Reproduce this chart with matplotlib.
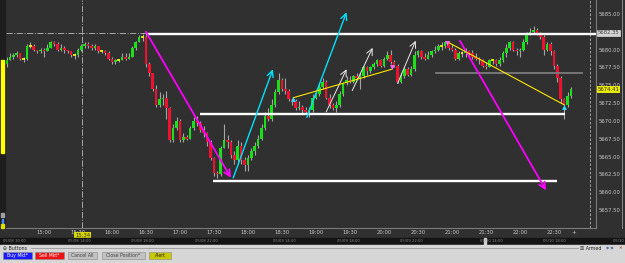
import matplotlib
matplotlib.use("Agg")
import matplotlib.pyplot as plt
from matplotlib.patches import Rectangle
import numpy as np

W, H = 625, 263

# 3 minute bars, first one at 14:27
bar_start = "14:27"
bar_minutes = 3
first_open = 5678.00

closes = [
    5678.50, 5679.00, 5679.25, 5679.50, 5678.75, 5678.75, 5680.50, 5680.50, 5680.00, 5679.75,
    5680.00, 5679.75, 5680.25, 5681.00, 5680.75, 5680.00, 5680.25, 5680.00, 5679.75, 5679.25,
    5679.25, 5680.00, 5680.50, 5680.75, 5680.50, 5680.25, 5680.50, 5679.75, 5679.75, 5679.50,
    5678.75, 5678.25, 5678.50, 5678.50, 5679.00, 5678.75, 5679.00, 5680.25, 5681.00, 5681.75,
    5681.75, 5678.00, 5676.75, 5674.50, 5672.25, 5673.00, 5673.25, 5671.75, 5667.25, 5669.00,
    5670.00, 5667.25, 5667.75, 5667.50, 5669.00, 5670.00, 5669.75, 5668.75, 5668.25, 5667.00,
    5664.75, 5662.75, 5662.50, 5666.25, 5667.25, 5667.00, 5665.25, 5664.50, 5666.50, 5664.50,
    5663.75, 5664.75, 5665.75, 5666.50, 5667.50, 5669.00, 5670.75, 5670.25, 5672.25, 5674.00,
    5675.75, 5674.50, 5674.25, 5673.00, 5672.75, 5671.75, 5672.00, 5671.50, 5671.25, 5671.50,
    5673.25, 5673.75, 5674.75, 5675.50, 5673.25, 5672.25, 5671.75, 5672.25, 5673.75, 5675.25,
    5675.75, 5675.50, 5676.25, 5676.00, 5676.25, 5677.50, 5677.00, 5677.50, 5678.00, 5678.50,
    5677.75, 5678.75, 5679.25, 5678.25, 5677.75, 5675.50, 5676.25, 5677.25, 5676.50, 5677.25,
    5679.25, 5679.75, 5679.00, 5678.75, 5679.25, 5679.75, 5680.00, 5680.50, 5680.50, 5681.00,
    5680.25, 5680.00, 5678.75, 5679.50, 5679.50, 5679.75, 5679.50, 5679.00, 5678.75, 5678.50,
    5677.75, 5677.50, 5678.50, 5678.50, 5678.00, 5678.50, 5679.50, 5680.25, 5681.00, 5680.00,
    5679.75, 5680.00, 5681.00, 5682.25, 5682.50, 5682.75, 5682.25, 5681.75, 5680.00, 5680.75,
    5679.75, 5677.75, 5676.00, 5673.00, 5672.25, 5673.50, 5674.41,
]
highs = [
    5679.00, 5679.50, 5679.50, 5679.75, 5679.50, 5679.00, 5680.75, 5681.00, 5680.75, 5680.00,
    5680.25, 5680.25, 5680.75, 5681.25, 5681.25, 5681.00, 5680.75, 5680.50, 5680.00, 5679.75,
    5679.50, 5680.25, 5680.75, 5681.00, 5681.00, 5680.75, 5680.75, 5680.50, 5680.00, 5680.00,
    5679.75, 5679.00, 5678.75, 5678.75, 5679.50, 5679.50, 5679.50, 5680.50, 5681.25, 5682.00,
    5682.25, 5682.00, 5678.25, 5676.75, 5675.00, 5674.00, 5673.75, 5674.25, 5672.00, 5669.50,
    5670.50, 5670.25, 5668.25, 5668.00, 5669.25, 5670.50, 5670.75, 5670.00, 5669.25, 5668.50,
    5667.25, 5665.00, 5663.00, 5666.50, 5669.50, 5668.00, 5667.25, 5665.75, 5667.25, 5667.00,
    5665.00, 5665.25, 5666.25, 5667.00, 5668.00, 5669.50, 5671.25, 5671.75, 5673.00, 5674.50,
    5676.75, 5676.00, 5676.00, 5674.50, 5673.25, 5673.00, 5672.75, 5672.25, 5672.00, 5672.00,
    5673.75, 5674.25, 5675.25, 5676.00, 5675.75, 5673.75, 5672.50, 5672.75, 5674.25, 5675.50,
    5676.25, 5676.25, 5676.50, 5676.75, 5676.75, 5677.75, 5677.75, 5677.75, 5678.25, 5678.75,
    5678.75, 5679.00, 5679.75, 5680.00, 5678.50, 5678.00, 5676.75, 5677.50, 5677.50, 5677.75,
    5679.75, 5680.00, 5680.00, 5679.50, 5679.75, 5680.00, 5680.50, 5680.75, 5681.00, 5681.25,
    5681.25, 5680.75, 5680.25, 5679.75, 5679.75, 5680.25, 5680.00, 5680.00, 5679.50, 5679.00,
    5678.75, 5678.25, 5678.75, 5678.75, 5678.75, 5679.00, 5679.75, 5680.75, 5681.25, 5681.25,
    5680.25, 5680.25, 5681.50, 5682.50, 5683.00, 5683.25, 5683.00, 5682.50, 5682.00, 5681.00,
    5681.00, 5680.00, 5678.00, 5676.25, 5673.25, 5674.00, 5674.75,
]
lows = [
    5677.50, 5678.50, 5678.75, 5679.00, 5678.50, 5678.25, 5678.50, 5680.25, 5679.75, 5679.50,
    5679.50, 5679.00, 5679.75, 5680.25, 5680.50, 5679.75, 5679.75, 5679.50, 5679.50, 5679.00,
    5678.75, 5679.00, 5679.75, 5680.25, 5680.25, 5680.00, 5680.00, 5679.50, 5679.50, 5679.25,
    5678.50, 5678.00, 5678.00, 5678.25, 5678.50, 5678.50, 5678.75, 5679.00, 5680.00, 5681.00,
    5681.25, 5677.50, 5676.25, 5674.25, 5672.00, 5672.00, 5672.25, 5670.25, 5667.00, 5667.00,
    5668.75, 5667.00, 5667.00, 5667.25, 5667.50, 5668.75, 5669.25, 5668.50, 5667.75, 5666.50,
    5664.50, 5662.25, 5662.00, 5662.25, 5666.25, 5666.25, 5664.75, 5664.00, 5664.25, 5664.00,
    5663.00, 5663.00, 5664.50, 5665.25, 5666.25, 5667.25, 5668.75, 5670.00, 5670.00, 5672.00,
    5673.75, 5674.25, 5673.75, 5672.75, 5672.25, 5671.50, 5671.50, 5671.00, 5671.00, 5670.50,
    5671.25, 5673.00, 5673.50, 5674.50, 5673.00, 5671.75, 5671.50, 5671.25, 5672.00, 5673.50,
    5675.00, 5675.25, 5675.25, 5675.75, 5674.50, 5676.00, 5676.50, 5676.75, 5677.25, 5677.75,
    5677.50, 5677.50, 5678.50, 5678.00, 5677.50, 5675.25, 5675.25, 5676.00, 5676.25, 5676.25,
    5677.00, 5679.00, 5678.75, 5678.50, 5678.75, 5679.00, 5679.50, 5679.75, 5680.00, 5680.25,
    5680.00, 5679.75, 5678.50, 5678.50, 5679.00, 5679.00, 5679.25, 5678.75, 5678.50, 5678.00,
    5677.50, 5677.25, 5677.50, 5678.00, 5677.75, 5677.75, 5678.25, 5679.00, 5680.00, 5679.75,
    5679.25, 5679.00, 5679.75, 5680.75, 5682.00, 5682.25, 5682.00, 5681.50, 5679.25, 5679.75,
    5679.25, 5677.25, 5675.50, 5672.50, 5670.25, 5672.00, 5673.25,
]

price_ticks = [5657.50, 5660.00, 5662.50, 5665.00, 5667.50, 5670.00,
               5672.50, 5675.00, 5677.50, 5680.00, 5682.50, 5685.00]
time_ticks = ["15:00", "15:30", "16:00", "16:30", "17:00", "17:30", "18:00", "18:30",
              "19:00", "19:30", "20:00", "20:30", "21:00", "21:30", "22:00", "22:30"]

# drawings on the chart: (from time, to time, price)
white_levels = [("16:30", None, 5682.25), ("17:18", "22:40", 5671.00),
                ("17:29", "22:33", 5661.50)]
gray_levels = [("20:45", "22:56", 5676.75)]
# arrows: (time0, price0, time1, price1)
magenta_arrows = [("16:30", 5682.50, "17:45", 5662.00), ("21:07", 5681.25, "22:23", 5660.25)]
cyan_arrows = [("17:47", 5662.00, "18:22", 5677.25), ("18:52", 5670.50, "19:27", 5685.25)]
white_arrows = [("19:09", 5671.25, "19:27", 5677.25), ("19:32", 5674.25, "19:50", 5680.25),
                ("20:12", 5675.25, "20:28", 5681.25)]
yellow_lines = [("18:40", 5673.25, "20:07", 5677.25), ("20:57", 5681.00, "22:39", 5672.25)]
up_marks = [("18:40", 5673.10), ("22:39", 5672.00)]
down_marks = [("20:07", 5677.55), ("20:56", 5680.95)]

cross_time, cross_price = "15:34", 5682.35
last_price = closes[-1]
date_labels = ["05/08 10:00", "05/08 14:00", "05/08 18:00", "05/08 22:00", "05/09 14:00",
               "05/09 18:00", "05/09 22:00", "05/10 14:00", "05/10 18:00", "05/10 22:00"]
date_label_px = [3, 68, 131, 195, 273, 337, 400, 480, 543, 613]


def hm(s):
    h, m = s.split(":")
    return int(h) * 60 + int(m)


def fx(x):
    return x / W


def fy(y):
    return 1 - y / H


bg = "#303030"
fig = plt.figure(figsize=(W / 100, H / 100), dpi=100, facecolor=bg)

ax = fig.add_axes([fx(6), fy(228), 590 / W, 228 / H])
ax.set_facecolor(bg)
ax.set_xlim(866.5, 1387.1)
ax.set_ylim(5654.97, 5686.96)

# candles
times = hm(bar_start) + bar_minutes * np.arange(len(closes))
opens = [first_open] + closes[:-1]
bw = 2.3
ax.vlines(times, lows, highs, color="#a4a4a4", lw=0.8, zorder=2)
for t, o, c in zip(times, opens, closes):
    if c > o:
        ax.add_patch(Rectangle((t - bw / 2, o), bw, c - o, color="#19e019", lw=0, zorder=3))
    elif c < o:
        ax.add_patch(Rectangle((t - bw / 2, c), bw, o - c, color="#f21030", lw=0, zorder=3))
    else:
        ax.hlines(c, t - bw / 2, t + bw / 2, color="#ffff00", lw=1.2, zorder=3)

# axes cosmetics
for s in ["top", "left"]:
    ax.spines[s].set_visible(False)
for s in ["right", "bottom"]:
    ax.spines[s].set_color("#7a7a7a")
    ax.spines[s].set_linewidth(0.8)
ax.yaxis.tick_right()
ax.set_yticks(price_ticks)
ax.set_yticklabels(["%.2f" % p for p in price_ticks])
ax.set_xticks([hm(t) for t in time_ticks])
ax.set_xticklabels(time_ticks)
ax.tick_params(axis="y", length=0, pad=1.6, labelsize=3.8, labelcolor="#c8c8c8")
ax.tick_params(axis="x", length=0, pad=1.8, labelsize=3.8, labelcolor="#c8c8c8")

# crosshair and time marker
ax.axhline(cross_price, color="#a8a8a8", lw=0.7, ls="-.", zorder=1)
ax.axvline(hm(cross_time), color="#a8a8a8", lw=0.7, ls="-.", zorder=1)
ax.axvline(1381.8, color="#b0b0b0", lw=0.6, ls=(0, (3, 2)), zorder=1)

# levels
xr = ax.get_xlim()[1]
for t0, t1, p in white_levels:
    ax.hlines(p, hm(t0), xr if t1 is None else hm(t1), color="white", lw=1.7, zorder=5)
for t0, t1, p in gray_levels:
    ax.hlines(p, hm(t0), hm(t1), color="#7c7c7c", lw=1.3, zorder=4)


def arrow(seg, color, lw):
    t0, p0, t1, p1 = seg
    ax.annotate("", xy=(hm(t1), p1), xytext=(hm(t0), p0), zorder=6,
                arrowprops=dict(arrowstyle="->,head_length=0.45,head_width=0.22",
                                color=color, lw=lw, shrinkA=0, shrinkB=0))


for seg in magenta_arrows:
    arrow(seg, "#ff00ff", 1.3)
for seg in cyan_arrows:
    arrow(seg, "#00e0ff", 1.0)
for seg in white_arrows:
    arrow(seg, "#e8e8e8", 0.7)
for t0, p0, t1, p1 in yellow_lines:
    ax.plot([hm(t0), hm(t1)], [p0, p1], color="#ffe600", lw=0.8, zorder=6)
for t, p in up_marks:
    ax.plot(hm(t), p, marker="^", ms=3.5, color="#33e0ff", mec="none", zorder=7)
for t, p in down_marks:
    ax.plot(hm(t), p, marker="v", ms=3.5, color="#ff66ff", mec="none", zorder=7)

# price flags on the axis
yt = ax.get_yaxis_transform()
ax.text(1.003, cross_price, "%.2f" % cross_price, transform=yt, fontsize=3.8, color="#404040",
        va="center", ha="left", clip_on=False,
        bbox=dict(boxstyle="square,pad=0.15", fc="#d4d4d4", ec="#f0f0f0", lw=0.4))
ax.text(1.003, last_price, "%.2f" % last_price, transform=yt, fontsize=3.8, color="#303030",
        va="center", ha="left", clip_on=False,
        bbox=dict(boxstyle="square,pad=0.15", fc="#e8e800", ec="none"))
ax.text(hm(cross_time), -0.022, cross_time, transform=ax.get_xaxis_transform(), fontsize=3.8,
        color="#303030", ha="center", va="top", clip_on=False, zorder=10,
        bbox=dict(boxstyle="square,pad=0.15", fc="#d8d800", ec="none"))
fig.text(fx(574), fy(233), "+", fontsize=4, color="#c8c8c8", ha="center", va="center")

# left strip
fig.patches.append(Rectangle((0, fy(228)), fx(5), 228 / H, transform=fig.transFigure,
                             color="#1e1e1e", zorder=0))
fig.patches.append(Rectangle((fx(1), fy(153)), fx(3), 93 / H, transform=fig.transFigure,
                             color="#ffff00"))
fig.patches.append(Rectangle((fx(1), fy(217)), fx(3), 4 / H, transform=fig.transFigure,
                             color="#a0a0a0"))
fig.patches.append(Rectangle((fx(2), fy(223)), fx(1), 4 / H, transform=fig.transFigure,
                             color="#4a8cff"))
fig.patches.append(Rectangle((fx(1), fy(228)), fx(3), 4 / H, transform=fig.transFigure,
                             color="#e0e000"))
fig.lines.append(plt.Line2D([fx(622), fx(622)], [fy(228), 1], transform=fig.transFigure,
                            color="#8a8a8a", lw=0.7))

# date strip
fig.patches.append(Rectangle((0, fy(245)), 1, 7 / H, transform=fig.transFigure,
                             color="#141414"))
for x, lab in zip(date_label_px, date_labels):
    fig.text(fx(x), fy(241.5), lab, fontsize=2.7, color="#8a8a8a", va="center", ha="left")
fig.patches.append(Rectangle((fx(484), fy(245)), fx(2), 7 / H, transform=fig.transFigure,
                             color="#d0d0d0"))

# buttons panel
fig.patches.append(Rectangle((0, 0), 1, 18 / H, transform=fig.transFigure, color="#d6d6d6"))
fig.text(fx(3), fy(248.5), "\u2296 Buttons", fontsize=3.4, color="#202020", va="center")
fig.lines.append(plt.Line2D([fx(31), fx(578)], [fy(248), fy(248)], transform=fig.transFigure,
                            color="#8c8c8c", lw=0.5))
fig.text(fx(580), fy(248.5), "\u2612 Armed", fontsize=3.4, color="#202020", va="center")
fig.text(fx(606), fy(248.5), "\u25c6 \u25c6", fontsize=3.0, color="#5a6fa0", va="center")
fig.text(fx(618), fy(248.5), "\u2715", fontsize=3.2, color="#cc2222", va="center")

buttons = [("Buy Mkt*", 3, 32, "#1a1aff", "white"), ("Sell Mkt*", 35, 64, "#ee1111", "white"),
           ("Cancel All", 68, 97, "#c2c2c2", "#404040"),
           ("Close Position*", 102, 145, "#c2c2c2", "#404040"),
           ("Alert", 149, 171, "#c8c800", "#202020")]
for lab, x0, x1, fc, tc in buttons:
    fig.patches.append(Rectangle((fx(x0), fy(259)), fx(x1 - x0), 7 / H,
                                 transform=fig.transFigure, fc=fc, ec="#8a8a8a", lw=0.4))
    fig.text(fx((x0 + x1) / 2), fy(255.5), lab, fontsize=3.3, color=tc,
             ha="center", va="center")

fig.savefig("out.png", dpi=100, facecolor=bg)
